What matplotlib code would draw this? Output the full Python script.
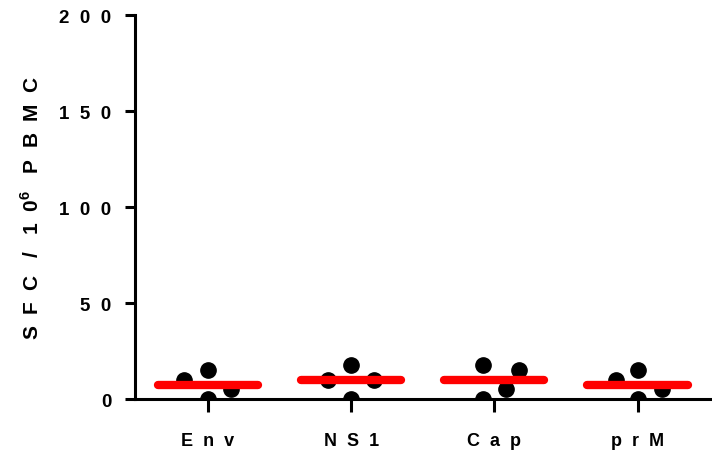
import matplotlib
matplotlib.use("Agg")
import matplotlib.pyplot as plt
import numpy as np

# ELISpot responses per antigen (SFC per million PBMC)
antigens = ["Env", "NS1", "Cap", "prM"]
env_sfc = [10, 15, 0, 5]
ns1_sfc = [10, 17.5, 10, 0]
cap_sfc = [17.5, 15, 5, 0]
prm_sfc = [10, 15, 5, 0]
y_ticks = [0, 50, 100, 150, 200]

# horizontal scatter of the dots inside each column
jitter = [
    [-0.17, 0.0, 0.0, 0.16],
    [-0.16, 0.0, 0.16, 0.0],
    [-0.08, 0.17, 0.08, -0.08],
    [-0.15, 0.0, 0.17, 0.0],
]


def spaced(s, gap="  "):
    return gap.join(list(s))


plt.rcParams["font.family"] = ["Liberation Sans", "DejaVu Sans"]
plt.rcParams["font.weight"] = "bold"
plt.rcParams["mathtext.fontset"] = "custom"
plt.rcParams["mathtext.bf"] = "Liberation Sans:bold"
plt.rcParams["mathtext.rm"] = "Liberation Sans:bold"

fig = plt.figure(figsize=(7.12, 4.52), dpi=100)
ax = fig.add_axes([0.1896, 0.115, 0.8104, 0.8496])

groups = [env_sfc, ns1_sfc, cap_sfc, prm_sfc]
for i, vals in enumerate(groups):
    xs = i + np.array(jitter[i])
    ax.plot(xs, vals, "o", color="black", markersize=11, clip_on=True, zorder=3)
    med = np.median(vals)
    ax.plot([i - 0.35, i + 0.35], [med, med], color="red", linewidth=6,
            solid_capstyle="round", zorder=4)

ax.set_xlim(-0.51, 3.52)
ax.set_ylim(0, 200)
ax.set_xticks(range(len(antigens)))
ax.set_xticklabels([spaced(a) for a in antigens], fontsize=13, fontweight="bold")
ax.set_yticks(y_ticks)
ax.set_yticklabels([spaced(str(t)) for t in y_ticks], fontsize=13.5, fontweight="bold")

for side in ["top", "right"]:
    ax.spines[side].set_visible(False)
for side in ["left", "bottom"]:
    ax.spines[side].set_linewidth(2.2)

ax.tick_params(axis="y", length=7, width=2.2, pad=10)
ax.tick_params(axis="x", length=9, width=2.2, pad=15)

ax.set_ylabel(r"S  F  C   /   1  0$^{\mathbf{6}}$   P  B  M  C",
              fontsize=15, fontweight="bold", labelpad=12)

fig.savefig("out.png", dpi=100)
